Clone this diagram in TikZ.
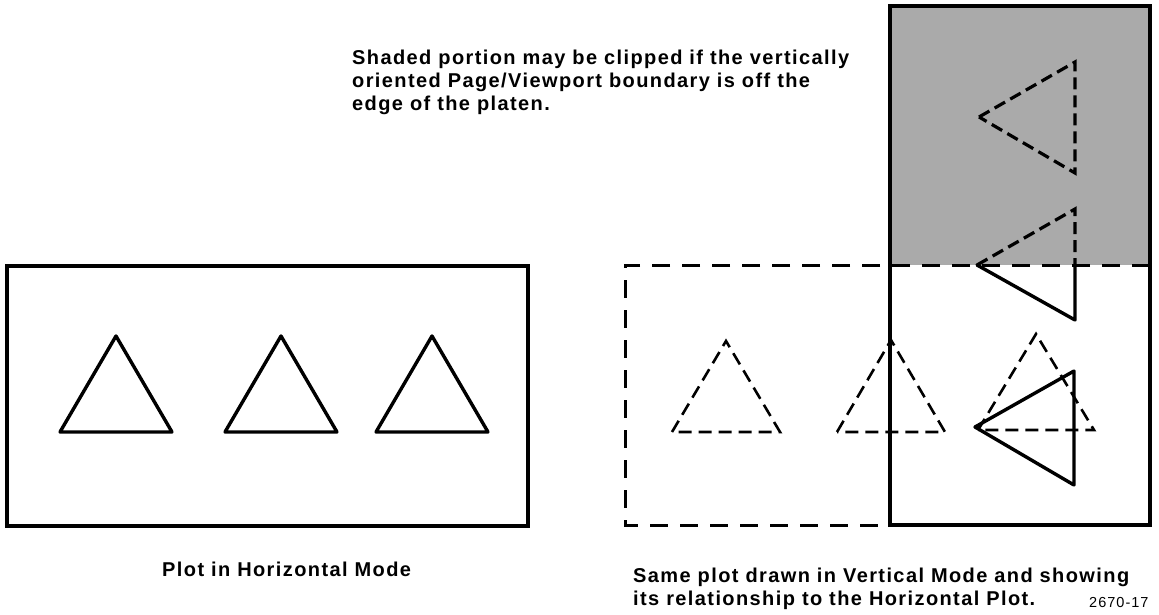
\documentclass[tikz,border=0pt]{standalone}
\usepackage{fontspec}
\setmainfont{Liberation Sans}[LetterSpace=7]
\usepackage{tikz}
\definecolor{PlatenGray}{RGB}{170,170,170}
\tikzset{
  plotedge/.style={draw=black,line width=3.4pt,line join=round,line cap=round},
  ghostedge/.style={draw=black,line width=2.6pt,dash pattern=on 13pt off 7pt},
  clipedge/.style={draw=black,line width=3.2pt,dash pattern=on 12pt off 6pt},
  boxedge/.style={draw=black,line width=3.4pt},
  ghostbox/.style={draw=black,line width=3pt,dash pattern=on 18pt off 12pt},
  caption/.style={anchor=base west,inner sep=0pt,font=\fontsize{20}{23}\selectfont\bfseries},
}
\begin{document}
\begin{tikzpicture}[x=1pt,y=-1pt]
  \useasboundingbox (0,0) rectangle (1159,614);
  % horizontal mode
  \coordinate (hbox nw) at (7,266);
  \coordinate (hbox se) at (528,526);
  \draw[boxedge] (hbox nw) rectangle (hbox se);
  \foreach \n/\x in {a/116,b/281,c/432} {
    \coordinate (h\n top) at (\x,336);
    \coordinate (h\n left) at (\x-56,432);
    \coordinate (h\n right) at (\x+56,432);
    \draw[plotedge] (h\n left)--(h\n top)--(h\n right)--cycle;
  }
  % vertical mode: platen area and shaded part
  \coordinate (vbox nw) at (890,6);
  \coordinate (vbox se) at (1150,525);
  \coordinate (clip w) at (890,265);
  \coordinate (clip e) at (1150,265);
  \fill[PlatenGray] (vbox nw) rectangle (clip e);
  \draw[boxedge] (vbox nw) rectangle (vbox se);
  % outline of the horizontal plot
  \coordinate (ghost nw) at (625,265);
  \coordinate (ghost sw) at (625,525);
  \coordinate (ghost se) at (890,525);
  \draw[ghostbox] (clip e)--(ghost nw)--(ghost sw)--(ghost se);
  \foreach \n/\x/\t/\b/\w in {a/726/341/432/54,b/891/340/432/54,c/1036/334/430/58} {
    \coordinate (g\n top) at (\x,\t);
    \coordinate (g\n left) at (\x-\w,\b);
    \coordinate (g\n right) at (\x+\w,\b);
    \draw[ghostedge] (g\n left)--(g\n top)--(g\n right)--cycle;
  }
  % rotated triangles
  \coordinate (va left) at (979,117);
  \coordinate (va top) at (1075,62);
  \coordinate (va bot) at (1075,173);
  \draw[clipedge] (va left)--(va top)--(va bot)--cycle;
  \coordinate (vb left) at (977,265);
  \coordinate (vb top) at (1075,209);
  \coordinate (vb cut) at (1075,265);
  \coordinate (vb bot) at (1075,320);
  \draw[clipedge] (vb left)--(vb top)--(vb cut);
  \draw[plotedge] (vb cut)--(vb bot)--(vb left);
  \coordinate (vc left) at (975,427);
  \coordinate (vc top) at (1074,371);
  \coordinate (vc bot) at (1074,485);
  \draw[plotedge] (vc left)--(vc top)--(vc bot)--cycle;
  % texts
  \node[caption] (note1) at (352,64) {Shaded portion may be clipped if the vertically};
  \node[caption] (note2) at (352,87) {oriented Page/Viewport boundary is off the};
  \node[caption] (note3) at (352,110) {edge of the platen.};
  \node[caption] (hcap) at (162,576) {Plot in Horizontal Mode};
  \node[caption] (vcap1) at (633,582) {Same plot drawn in Vertical Mode and showing};
  \node[caption] (vcap2) at (633,605) {its relationship to the Horizontal Plot.};
  \node[caption,font=\fontsize{14.5}{17}\selectfont] (fignum) at (1089,607) {2670-17};
\end{tikzpicture}
\end{document}
